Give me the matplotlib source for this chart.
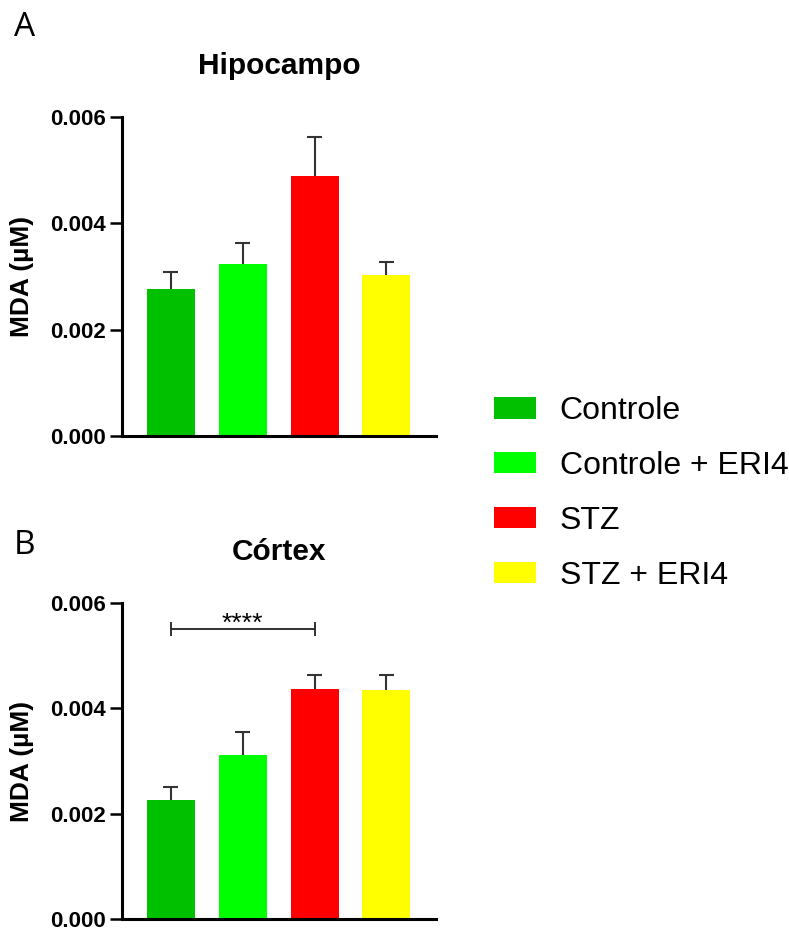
import matplotlib.pyplot as plt
from matplotlib.patches import Patch

plt.rcParams['font.family'] = ['Liberation Sans', 'DejaVu Sans']

# data
groups = ['Controle', 'Controle + ERI4', 'STZ', 'STZ + ERI4']
colors = ['#00C000', '#00FF00', '#FF0000', '#FFFF00']

hipo_mean = [0.00276, 0.00323, 0.00489, 0.00303]
hipo_err = [0.00032, 0.00040, 0.00073, 0.00024]

cortex_mean = [0.00226, 0.00311, 0.00436, 0.00434]
cortex_err = [0.00025, 0.00045, 0.00028, 0.00029]

yticks = [0.0, 0.002, 0.004, 0.006]
sig_pair = (0, 2)
sig_label = '****'

W, H = 789, 934
fig = plt.figure(figsize=(W / 100, H / 100), dpi=100)


def px_axes(x0, y0, x1, y1):
    # pixel box (top-left origin) -> figure axes
    return fig.add_axes([x0 / W, 1 - y1 / H, (x1 - x0) / W, (y1 - y0) / H])


def bar_panel(ax, means, errs):
    x = list(range(len(means)))
    tops = [m + e for m, e in zip(means, errs)]
    ax.bar(x, means, width=0.667, color=colors, edgecolor='none', zorder=2)
    # upper-only error bars
    ax.vlines(x, means, tops, color='#333333', lw=1.5, zorder=1)
    ax.hlines(tops, [i - 0.105 for i in x], [i + 0.105 for i in x],
              color='#333333', lw=1.5, zorder=1)
    ax.set_xlim(-0.68, 3.69)
    ax.set_ylim(0, 0.006)
    ax.set_yticks(yticks)
    ax.set_yticklabels([f'{v:.3f}' for v in yticks], fontsize=16, fontweight='bold')
    ax.set_xticks([])
    for s in ['top', 'right']:
        ax.spines[s].set_visible(False)
    for s in ['left', 'bottom']:
        ax.spines[s].set_linewidth(2.2)
    ax.tick_params(axis='y', length=8.5, width=1.8, pad=3)
    ax.set_ylabel('MDA (µM)', fontsize=19, fontweight='bold')
    ax.yaxis.set_label_coords(-0.28, 0.5)


ax1 = px_axes(122, 117, 436, 436)
bar_panel(ax1, hipo_mean, hipo_err)

ax2 = px_axes(122, 603, 436, 919)
bar_panel(ax2, cortex_mean, cortex_err)

# significance bracket (Controle vs STZ, córtex)
a, b = sig_pair
ax2.hlines(0.00551, a, b, color='#222222', lw=1.3)
ax2.vlines([a, b], 0.00538, 0.00564, color='#222222', lw=1.3)
ax2.text((a + b) / 2, 0.00583, sig_label, ha='center', va='top', fontsize=19)

# titles and panel letters
fig.text(279 / W, 1 - 66 / H, 'Hipocampo', ha='center', va='center', fontsize=21.5, fontweight='bold')
fig.text(279 / W, 1 - 552 / H, 'Córtex', ha='center', va='center', fontsize=21.5, fontweight='bold')
fig.text(14 / W, 1 - 27 / H, 'A', ha='left', va='center', fontsize=24, family='Open Sans')
fig.text(14 / W, 1 - 545 / H, 'B', ha='left', va='center', fontsize=24, family='Open Sans')

handles = [Patch(facecolor=c, edgecolor='none') for c in colors]
fig.legend(handles, groups, loc='upper left', bbox_to_anchor=(494 / W, 1 - 396 / H),
           frameon=False, fontsize=23, handlelength=1.31, handleheight=0.66,
           handletextpad=0.75, labelspacing=0.78, borderpad=0, borderaxespad=0)

fig.savefig('out.png', dpi=100)
